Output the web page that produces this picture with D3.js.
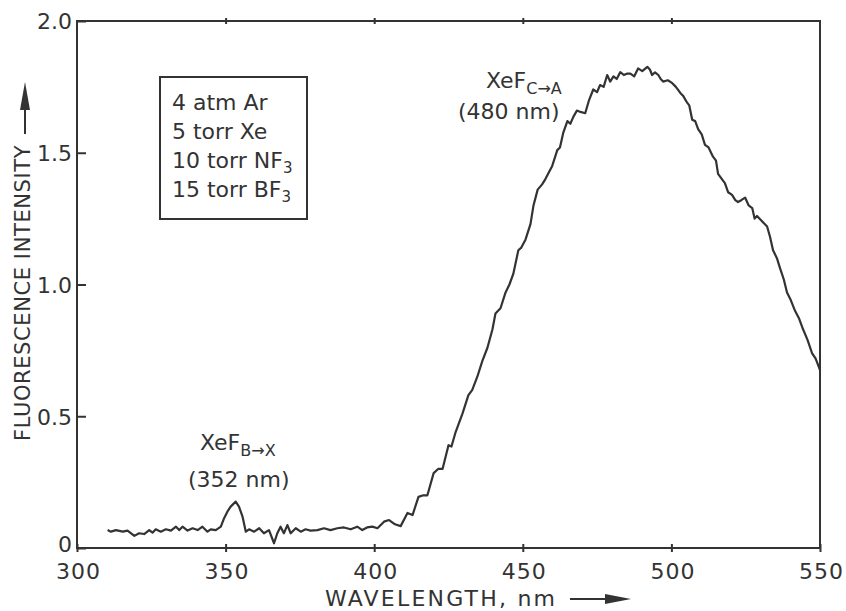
<!DOCTYPE html>
<html><head><meta charset="utf-8">
<script src="https://cdn.jsdelivr.net/npm/d3@7"></script>
<style>body{margin:0;background:#fff}svg text{font-family:"DejaVu Sans",sans-serif;fill:#333}</style>
</head><body><svg id="c" width="846" height="611"></svg>
<script>
const wavelengths=[310.3,311.4,313.1,315.4,317.0,319.3,320.9,322.6,324.3,325.4,326.5,328.2,329.9,331.6,333.3,334.4,335.5,337.2,338.9,340.6,342.2,343.9,345.0,346.7,348.4,349.5,350.6,351.7,353.4,354.5,355.7,356.8,357.9,359.6,361.3,362.9,364.6,366.3,367.4,368.5,369.6,370.8,371.9,373.6,375.3,376.9,378.6,380.9,383.1,385.3,387.6,389.8,392.1,394.3,396.0,397.6,399.4,401.1,403.3,405.0,407.0,408.9,411.2,412.9,414.9,416.5,417.9,420.0,421.5,423.0,425.0,426.0,427.4,429.7,431.7,433.0,434.7,436.4,438.1,439.8,440.8,442.5,444.2,445.5,446.8,448.5,449.5,450.9,452.6,453.6,455.0,456.5,457.6,459.9,461.6,462.5,463.6,465.0,466.0,467.0,468.2,469.4,471.0,472.3,473.7,475.0,476.0,477.2,478.4,479.4,480.5,481.6,482.8,484.0,485.0,486.2,487.5,488.8,490.2,491.9,492.8,493.5,494.5,495.6,496.4,497.2,498.8,500.3,501.5,503.0,504.0,505.3,506.0,507.0,508.0,509.0,510.2,511.3,512.5,514.0,515.0,515.7,517.0,518.0,519.1,520.4,521.5,522.4,523.5,524.8,526.0,527.2,528.0,528.8,530.5,532.2,533.2,534.2,535.5,536.6,537.8,538.9,540.2,541.6,543.0,544.3,545.8,547.3,548.5,549.5,550.0];
const intensities=[0.068,0.062,0.068,0.062,0.066,0.046,0.056,0.053,0.068,0.058,0.071,0.062,0.071,0.066,0.081,0.068,0.081,0.066,0.075,0.068,0.081,0.062,0.071,0.068,0.081,0.113,0.138,0.157,0.176,0.157,0.119,0.062,0.071,0.062,0.075,0.056,0.068,0.018,0.056,0.081,0.056,0.087,0.056,0.075,0.062,0.071,0.066,0.068,0.075,0.068,0.075,0.078,0.071,0.081,0.068,0.078,0.081,0.075,0.100,0.106,0.090,0.083,0.133,0.125,0.194,0.200,0.200,0.284,0.300,0.300,0.390,0.385,0.440,0.510,0.580,0.600,0.650,0.710,0.760,0.830,0.890,0.910,0.970,1.000,1.040,1.130,1.140,1.170,1.230,1.300,1.360,1.380,1.400,1.450,1.510,1.520,1.575,1.620,1.610,1.636,1.660,1.655,1.650,1.700,1.740,1.730,1.757,1.750,1.795,1.770,1.790,1.780,1.806,1.795,1.800,1.800,1.790,1.820,1.810,1.826,1.815,1.795,1.805,1.795,1.780,1.770,1.775,1.764,1.750,1.727,1.715,1.690,1.680,1.625,1.620,1.590,1.570,1.530,1.520,1.485,1.470,1.420,1.400,1.385,1.350,1.340,1.320,1.313,1.320,1.330,1.300,1.290,1.250,1.260,1.240,1.220,1.180,1.130,1.100,1.060,1.020,0.970,0.940,0.900,0.870,0.830,0.790,0.740,0.720,0.690,0.675];
const xTicks=[300,350,400,450,500,550];
const yTicks=[0,0.5,1.0,1.5,2.0];
const yTickLabels=["0","0.5","1.0","1.5","2.0"];
const legendLines=[["4 atm Ar",""],["5 torr Xe",""],["10 torr NF","3"],["15 torr BF","3"]];

const svg=d3.select("#c");
const x=d3.scaleLinear().domain([300,550]).range([77,820]);
const y=d3.scaleLinear().domain([0,2]).range([548,21]);
const ink="#333";

// frame
svg.append("rect").attr("x",x(300)).attr("y",y(2)).attr("width",x(550)-x(300)).attr("height",y(0)-y(2))
  .attr("fill","none").attr("stroke",ink).attr("stroke-width",2);

// y axis (inward ticks)
const ya=svg.append("g").attr("transform",`translate(${x(300)},0)`)
  .call(d3.axisLeft(y).tickValues(yTicks).tickSize(-9).tickPadding(5).tickFormat((d,i)=>yTickLabels[i]));
ya.select(".domain").remove();
ya.selectAll("line").attr("stroke",ink).attr("stroke-width",2);
ya.selectAll("text").attr("font-size",22).attr("fill",ink).attr("x",-5)
  .attr("dy",d=>d===0?"0.18em":"0.36em").style("font-family","DejaVu Sans");

// bottom axis crossing ticks
const xb=svg.append("g").attr("transform",`translate(0,${y(0)})`)
  .call(d3.axisBottom(x).tickValues(xTicks).tickSize(4).tickFormat(d=>d));
xb.select(".domain").remove();
xb.selectAll("line").attr("stroke",ink).attr("stroke-width",2).attr("y1",-4);
xb.selectAll("text").attr("font-size",22).attr("fill",ink).attr("y",31).attr("dy",0)
  .attr("dx",1).style("letter-spacing","1px").style("font-family","DejaVu Sans");
// top axis ticks
const xt=svg.append("g").attr("transform",`translate(0,${y(2)})`)
  .call(d3.axisTop(x).tickValues(xTicks.slice(1,5)).tickSize(3).tickFormat(""));
xt.select(".domain").remove();
xt.selectAll("line").attr("stroke",ink).attr("stroke-width",2).attr("y1",3);

// curve
const pts=wavelengths.map((w,i)=>[w,intensities[i]]);
svg.append("path").datum(pts)
  .attr("d",d3.line().x(d=>x(d[0])).y(d=>y(d[1])))
  .attr("fill","none").attr("stroke",ink).attr("stroke-width",2.2).attr("stroke-linejoin","round");

// legend box
svg.append("rect").attr("x",160).attr("y",77).attr("width",147).attr("height",142)
  .attr("fill","none").attr("stroke",ink).attr("stroke-width",2);
legendLines.forEach((l,i)=>{
  const t=svg.append("text").attr("x",172).attr("y",110+i*29).attr("font-size",22);
  t.append("tspan").text(l[0]);
  if(l[1]) t.append("tspan").attr("font-size",15).attr("dy",5).text(l[1]);
});

// annotations
function label(xp,yp,main,sub){
  const t=svg.append("text").attr("x",xp).attr("y",yp).attr("font-size",22);
  t.append("tspan").text(main);
  t.append("tspan").attr("font-size",16).attr("dy",6).text(sub);
}
label(486,88,"XeF","C\u2192A");
svg.append("text").attr("x",458).attr("y",119).attr("font-size",22).text("(480 nm)");
label(200,450,"XeF","B\u2192X");
svg.append("text").attr("x",188).attr("y",487).attr("font-size",22).text("(352 nm)");

// axis titles
svg.append("text").attr("transform","translate(30,441) rotate(-90)").attr("font-size",21)
  .style("letter-spacing","0.6px").text("FLUORESCENCE INTENSITY");
svg.append("text").attr("x",325).attr("y",606).attr("font-size",22)
  .style("letter-spacing","2.2px").text("WAVELENGTH, nm");

// arrows
svg.append("line").attr("x1",25).attr("y1",134).attr("x2",25).attr("y2",105).attr("stroke",ink).attr("stroke-width",2);
svg.append("path").attr("d","M25,82 L20,110 L30,110 Z").attr("fill",ink);
svg.append("line").attr("x1",570).attr("y1",599).attr("x2",610).attr("y2",599).attr("stroke",ink).attr("stroke-width",2);
svg.append("path").attr("d","M631,599 L605,594 L605,604 Z").attr("fill",ink);
</script></body></html>
